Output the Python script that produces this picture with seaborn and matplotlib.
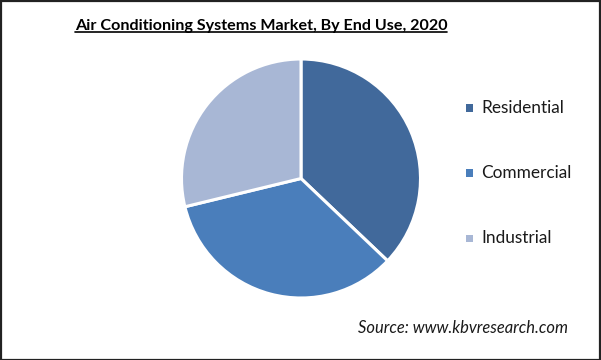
import matplotlib
matplotlib.use("Agg")
import matplotlib.pyplot as plt
import seaborn as sns
from matplotlib.lines import Line2D
from matplotlib.patches import Rectangle

categories = ["Residential", "Commercial", "Industrial"]
shares = [37.1, 34.1, 28.8]
colors = ["#41699B", "#4A7EBB", "#A8B7D5"]
title = "Air Conditioning Systems Market, By End Use, 2020"
source = "Source: www.kbvresearch.com"

sns.set_theme(style="white")
plt.rcParams['font.family'] = ['Lato', 'DejaVu Sans']

W, H = 601, 360
fig = plt.figure(figsize=(W / 100, H / 100), dpi=100)
fig.patch.set_facecolor("white")

cx, cy, r = 301, 178.5, 119.5
box = 121
ax = fig.add_axes([(cx - box) / W, (H - cy - box) / H, 2 * box / W, 2 * box / H])
wedges, _ = ax.pie(shares, colors=colors, startangle=90, counterclock=False,
                   radius=r / box, wedgeprops=dict(edgecolor="white", linewidth=2.2))
ax.set_xlim(-1, 1)
ax.set_ylim(-1, 1)
ax.set_aspect("equal")
ax.axis("off")

# title with underline
t = fig.text(261 / W, 1 - 26 / H, title, ha="center", va="center",
             fontsize=11.6, fontweight="bold", color="black")
fig.canvas.draw()
bb = t.get_window_extent()
fig.add_artist(Line2D([bb.x0 / W, bb.x1 / W], [(bb.y0 + 1) / H] * 2,
                      color="black", linewidth=1.2, transform=fig.transFigure))

# legend
leg_y = [108, 173, 238]
for lab, col, y in zip(categories, colors, leg_y):
    fig.add_artist(Rectangle(((469 - 3.5) / W, (H - y - 3.5) / H), 7 / W, 7 / H,
                             facecolor=col, edgecolor="none", transform=fig.transFigure))
    fig.text(481.5 / W, 1 - y / H, lab, ha="left", va="center", fontsize=12.4, color="#1a1a1a")

fig.text(568 / W, 1 - 328 / H, source, ha="right", va="center", fontsize=11.9,
         style="italic", color="#1a1a1a")

fig.add_artist(Rectangle((0.5 / W, 0.5 / H), (W - 1.5) / W, (H - 1.5) / H, facecolor="none",
                         edgecolor="#222222", linewidth=1.6, transform=fig.transFigure))

fig.savefig("out.png", dpi=100)
